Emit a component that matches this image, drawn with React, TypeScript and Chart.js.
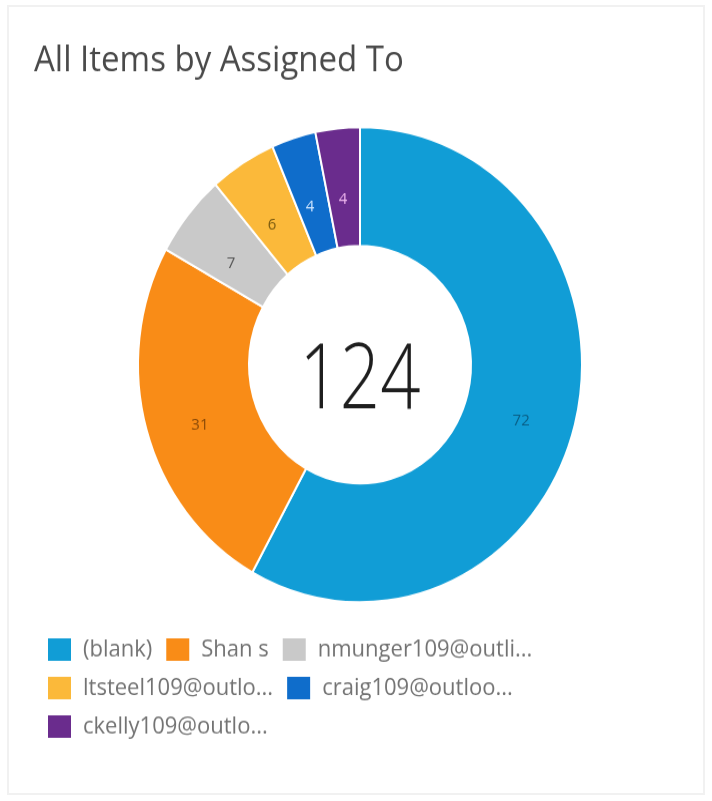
import React, { useEffect, useRef } from "react";
import { Chart, registerables } from "chart.js";

Chart.register(...registerables);

const titleText = "All Items by Assigned To";
const categories = [
  "(blank)",
  "Shan s",
  "nmunger109@outli...",
  "ltsteel109@outlo...",
  "craig109@outloo...",
  "ckelly109@outlo...",
];
const itemCounts = [72, 31, 7, 6, 4, 4];
const sliceColors = ["#119dd6", "#f98c17", "#c9c9c9", "#fbb93a", "#0f6dcb", "#6a2c8d"];
const labelColors = ["#0a5f86", "#8a4a08", "#555555", "#7a5a10", "#cfe6ff", "#f0b8f0"];

const FONT = "'Segoe UI', 'Open Sans', 'Noto Sans', sans-serif";
const STRETCH_Y = 1.07;

const sliceLabelPlugin = {
  id: "sliceLabels",
  afterDatasetsDraw(chart: any) {
    const { ctx } = chart;
    const meta = chart.getDatasetMeta(0);
    ctx.save();
    ctx.font = `15px ${FONT}`;
    ctx.textAlign = "center";
    ctx.textBaseline = "middle";
    meta.data.forEach((arc: any, i: number) => {
      const p = arc.getCenterPoint();
      ctx.fillStyle = labelColors[i];
      ctx.fillText(String(itemCounts[i]), p.x, p.y + 11);
    });
    ctx.restore();
  },
};

const centerTextPlugin = {
  id: "centerText",
  afterDatasetsDraw(chart: any) {
    const { ctx } = chart;
    const arc = chart.getDatasetMeta(0).data[0];
    if (!arc) return;
    const total = itemCounts.reduce((a, b) => a + b, 0);
    ctx.save();
    ctx.translate(arc.x, arc.y + 17);
    ctx.scale(0.84, 1);
    ctx.font = `300 84px ${FONT}`;
    ctx.fillStyle = "#1e1e1e";
    ctx.textAlign = "center";
    ctx.textBaseline = "middle";
    ctx.fillText(String(total), 0, 0);
    ctx.restore();
  },
};

export default function App() {
  const canvasRef = useRef<HTMLCanvasElement | null>(null);

  useEffect(() => {
    if (!canvasRef.current) return;
    const chart = new Chart(canvasRef.current, {
      type: "doughnut",
      data: {
        labels: categories,
        datasets: [
          {
            data: itemCounts,
            backgroundColor: sliceColors,
            borderColor: "#ffffff",
            borderWidth: 2,
          },
        ],
      },
      options: {
        animation: false,
        responsive: true,
        maintainAspectRatio: false,
        radius: 222,
        cutout: "50%",
        layout: { padding: { left: 25, right: 17, top: 31, bottom: 40 } },
        plugins: {
          title: {
            display: true,
            text: titleText,
            align: "start",
            color: "#4a4a4a",
            font: { family: FONT, size: 33, weight: "normal" },
            padding: { top: 0, bottom: 22 },
          },
          legend: {
            position: "bottom",
            align: "start",
            labels: {
              boxWidth: 25,
              boxHeight: 23,
              padding: 13,
              color: "#737373",
              font: { family: FONT, size: 22 },
            },
          },
          tooltip: { enabled: false },
        },
      },
      plugins: [sliceLabelPlugin, centerTextPlugin],
    });
    return () => chart.destroy();
  }, []);

  return (
    <div
      style={{
        position: "absolute",
        left: 7,
        top: 5,
        width: 694,
        height: 786,
        border: "2px solid #f1f1f1",
        background: "#ffffff",
        overflow: "hidden",
      }}
    >
      <div
        style={{
          position: "relative",
          width: 694,
          height: 734,
          transform: `scaleY(${STRETCH_Y})`,
          transformOrigin: "top left",
        }}
      >
        <canvas ref={canvasRef} />
      </div>
    </div>
  );
}
